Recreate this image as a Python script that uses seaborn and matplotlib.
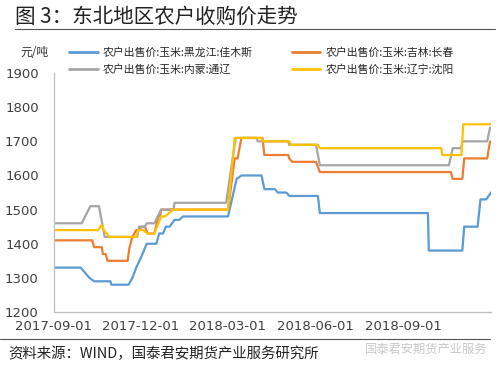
import numpy as np
import pandas as pd
import seaborn as sns
import matplotlib.pyplot as plt
import matplotlib.dates as mdates
from matplotlib.lines import Line2D

# 各地区农户出售价（元/吨），按拐点读取
hlj_dates = ["2017-09-01", "2017-09-29", "2017-10-08", "2017-10-13", "2017-10-30", "2017-10-31",
             "2017-11-18", "2017-11-22", "2017-11-26", "2017-12-01", "2017-12-07", "2017-12-17",
             "2017-12-20", "2017-12-24", "2017-12-27", "2017-12-31", "2018-01-05", "2018-01-10",
             "2018-01-14", "2018-03-02", "2018-03-11", "2018-03-16", "2018-04-06", "2018-04-09",
             "2018-04-20", "2018-04-23", "2018-05-02", "2018-05-05", "2018-06-04", "2018-06-06",
             "2018-09-27", "2018-09-28", "2018-11-02", "2018-11-04", "2018-11-18", "2018-11-21",
             "2018-11-27", "2018-12-02"]
hlj_vals = [1330, 1330, 1300, 1290, 1290, 1280,
            1280, 1300, 1330, 1360, 1400, 1400,
            1430, 1430, 1450, 1450, 1470, 1470,
            1480, 1480, 1590, 1600, 1600, 1560,
            1560, 1550, 1550, 1540, 1540, 1490,
            1490, 1380, 1380, 1450, 1450, 1530,
            1530, 1550]

jl_dates = ["2017-09-01", "2017-10-11", "2017-10-13", "2017-10-21", "2017-10-22", "2017-10-25",
            "2017-10-27", "2017-11-17", "2017-11-19", "2017-11-22", "2017-11-26", "2017-11-28",
            "2017-12-02", "2017-12-05", "2017-12-08", "2017-12-15", "2017-12-19", "2017-12-21",
            "2017-12-22", "2018-03-02", "2018-03-09", "2018-03-12", "2018-03-16", "2018-04-07",
            "2018-04-09", "2018-05-04", "2018-05-05", "2018-05-08", "2018-06-02", "2018-06-06",
            "2018-10-21", "2018-10-23", "2018-11-02", "2018-11-04", "2018-11-28", "2018-12-01"]
jl_vals = [1410, 1410, 1390, 1390, 1370, 1370,
           1350, 1350, 1390, 1420, 1440, 1440,
           1450, 1450, 1430, 1430, 1480, 1480,
           1500, 1500, 1650, 1650, 1710, 1710,
           1660, 1660, 1650, 1640, 1640, 1610,
           1610, 1590, 1590, 1650, 1650, 1700]

nm_dates = ["2017-09-01", "2017-09-30", "2017-10-09", "2017-10-18", "2017-10-24", "2017-11-27",
            "2017-11-29", "2017-12-05", "2017-12-07", "2017-12-15", "2017-12-22", "2018-01-04",
            "2018-01-05", "2018-02-28", "2018-03-10", "2018-04-01", "2018-04-02", "2018-05-04",
            "2018-05-05", "2018-06-02", "2018-06-06", "2018-10-19", "2018-10-23", "2018-11-01",
            "2018-11-02", "2018-11-28", "2018-12-01"]
nm_vals = [1460, 1460, 1510, 1510, 1420, 1420,
           1450, 1450, 1460, 1460, 1500, 1500,
           1520, 1520, 1710, 1710, 1700, 1700,
           1690, 1690, 1630, 1630, 1680, 1680,
           1700, 1700, 1740]

ln_dates = ["2017-09-01", "2017-10-17", "2017-10-21", "2017-10-23", "2017-10-29", "2017-11-26",
            "2017-11-28", "2017-12-03", "2017-12-08", "2017-12-15", "2017-12-22", "2017-12-26",
            "2018-01-04", "2018-03-02", "2018-03-09", "2018-04-06", "2018-04-07", "2018-05-05",
            "2018-05-07", "2018-06-04", "2018-06-06", "2018-10-11", "2018-10-12", "2018-11-01",
            "2018-11-03", "2018-12-02"]
ln_vals = [1440, 1440, 1455, 1440, 1420, 1420,
           1440, 1440, 1430, 1430, 1480, 1480,
           1500, 1500, 1710, 1710, 1700, 1700,
           1690, 1690, 1680, 1680, 1660, 1660,
           1750, 1750]

names = ["农户出售价:玉米:黑龙江:佳木斯", "农户出售价:玉米:吉林:长春",
         "农户出售价:玉米:内蒙:通辽", "农户出售价:玉米:辽宁:沈阳"]
colors = ["#5B9BD5", "#ED7D31", "#A5A5A5", "#FFC000"]
tick_dates = ["2017-09-01", "2017-12-01", "2018-03-01", "2018-06-01", "2018-09-01"]

frames = []
for name, d, v in zip(names, [hlj_dates, jl_dates, nm_dates, ln_dates],
                      [hlj_vals, jl_vals, nm_vals, ln_vals]):
    frames.append(pd.DataFrame({"date": pd.to_datetime(d), "price": v, "series": name}))
df = pd.concat(frames, ignore_index=True)

sns.set_style("white")
plt.rcParams['font.family'] = ['Noto Sans CJK SC', 'DejaVu Sans']

fig = plt.figure(figsize=(5, 3.71), dpi=100)
ax = fig.add_axes([0.108, 0.159, 0.874, 0.644])

sns.lineplot(data=df, x="date", y="price", hue="series", palette=dict(zip(names, colors)),
             linewidth=1.6, ax=ax, legend=False, estimator=None, sort=False)

ax.set_xlim(pd.Timestamp("2017-09-01"), pd.Timestamp("2018-12-02"))
ax.set_ylim(1200, 1900)
ax.set_yticks(range(1200, 1901, 100))
ax.set_xticks(pd.to_datetime(tick_dates + ["2018-12-01"]))
ax.set_xticklabels(tick_dates + [""])
ax.set_xlabel("")
ax.set_ylabel("")
for s in ["top", "right"]:
    ax.spines[s].set_visible(False)
for s in ["left", "bottom"]:
    ax.spines[s].set_color("#bfbfbf")
    ax.spines[s].set_linewidth(0.9)
ax.tick_params(axis="both", labelsize=9.5, colors="#bfbfbf", labelcolor="#404040", length=3,
               width=0.8)
ax.tick_params(axis="x", direction="in", pad=6)
ax.tick_params(axis="y", direction="out", pad=8)
for lab in ax.get_xticklabels() + ax.get_yticklabels():
    lab.set_family("DejaVu Sans")

# 图例
handles = [Line2D([0], [0], color=c, lw=2) for c in colors]
order = [0, 2, 1, 3]
fig.legend([handles[i] for i in order], [names[i] for i in order], ncol=2,
           loc="upper left", bbox_to_anchor=(0.13, 0.885), frameon=False,
           fontsize=7.8, handlelength=2.6, columnspacing=3.6, labelspacing=0.6,
           handletextpad=0.5, borderaxespad=0)

fig.text(0.04, 0.85, "元/吨", fontsize=8.5, color="#333333")

# 标题与来源
fig.text(0.03, 0.955, "图 3：东北地区农户收购价走势", fontsize=14.8, color="#222222", va="center")
fig.add_artist(Line2D([0.03, 0.99], [0.922, 0.922], color="#555555", lw=0.8))
fig.add_artist(Line2D([0.0, 0.98], [0.086, 0.086], color="#555555", lw=0.8))
fig.text(0.016, 0.045, "资料来源：WIND，国泰君安期货产业服务研究所", fontsize=10.4,
         color="#222222", va="center")
fig.text(0.73, 0.058, "国泰君安期货产业服务", fontsize=8.8, color="#c8c8c8", va="center")

fig.savefig("out.png", dpi=100, facecolor="white")
